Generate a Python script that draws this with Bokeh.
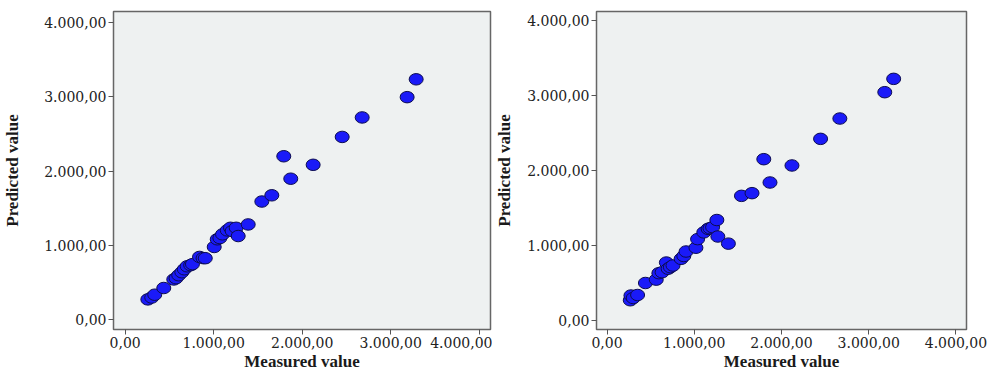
from bokeh.plotting import figure
from bokeh.models import Range1d, FixedTicker, ColumnDataSource
from bokeh.layouts import row
from bokeh.embed import file_html
from bokeh.resources import INLINE

# Left panel data
measured1 = [256, 300, 334, 436, 549, 575, 605, 640, 668, 700, 740, 760, 840, 880, 905,
             1006, 1040, 1070, 1100, 1153, 1190, 1209, 1254, 1277, 1390, 1544, 1657,
             1792, 1871, 2124, 2452, 2678, 3186, 3288]
predicted1 = [275, 300, 338, 428, 543, 560, 600, 640, 680, 720, 735, 749, 846, 830, 829,
              980, 1083, 1100, 1150, 1203, 1238, 1194, 1238, 1127, 1283, 1591, 1675,
              2200, 1898, 2085, 2460, 2722, 2995, 3235]

# Right panel data
measured2 = [266, 274, 300, 350, 440, 564, 594, 631, 680, 700, 726, 756, 849, 880, 906,
             1019, 1038, 1109, 1158, 1180, 1210, 1259, 1270, 1391, 1541, 1662, 1797,
             1868, 2120, 2448, 2669, 3184, 3286]
predicted2 = [270, 333, 300, 340, 500, 545, 631, 644, 773, 690, 711, 733, 822, 860, 920,
              970, 1085, 1175, 1222, 1230, 1244, 1340, 1120, 1025, 1662, 1698, 2151,
              1840, 2067, 2422, 2693, 3044, 3222]

tick_values = [0, 1000, 2000, 3000, 4000]
tick_labels = ["0,00", "1.000,00", "2.000,00", "3.000,00", "4.000,00"]
x_label = "Measured value"
y_label = "Predicted value"


def make_panel(xs, ys, width, xr, yr, border_left, border_right, border_top, ylab_standoff):
    p = figure(width=width, height=378, output_backend="svg", toolbar_location=None,
               x_range=Range1d(*xr), y_range=Range1d(*yr),
               min_border_left=border_left, min_border_right=border_right,
               min_border_top=border_top, min_border_bottom=49)
    p.background_fill_color = "#eef1f1"
    p.border_fill_color = "white"
    p.outline_line_color = "#666666"
    p.outline_line_width = 1.5
    p.grid.visible = False
    for ax in (p.xaxis[0], p.yaxis[0]):
        ax.ticker = FixedTicker(ticks=tick_values)
        ax.major_label_overrides = {v: l for v, l in zip(tick_values, tick_labels)}
        ax.minor_tick_line_color = None
        ax.major_tick_in = 0
        ax.major_tick_out = 5
        ax.major_tick_line_color = "#555555"
        ax.axis_line_color = "#666666"
        ax.major_label_text_font = "DejaVu Serif"
        ax.major_label_text_font_size = "14px"
        ax.major_label_text_color = "#222222"
        ax.major_label_standoff = 2
        ax.axis_label_text_font = "Liberation Serif"
        ax.axis_label_text_font_style = "bold"
        ax.axis_label_text_font_size = "17px"
        ax.axis_label_text_color = "#1a1a1a"
    p.xaxis.axis_label = x_label
    p.yaxis.axis_label = y_label
    p.xaxis.axis_label_standoff = 1
    p.yaxis.axis_label_standoff = ylab_standoff
    src = ColumnDataSource(dict(x=xs, y=ys))
    p.ellipse(x="x", y="y", width=14, height=11.5, width_units="screen",
              height_units="screen", source=src,
              fill_color="#1a1af8", line_color="#0c0c50", line_width=1)
    return p


p1 = make_panel(measured1, predicted1, 492, (-132, 4128), (-130, 4147), 113, 2, 9, 19)
p2 = make_panel(measured2, predicted2, 508, (-121, 4121), (-120, 4120), 98, 34, 11, 10)

layout = row(p1, p2, spacing=0)
open("out.html", "w").write(file_html(layout, INLINE))
